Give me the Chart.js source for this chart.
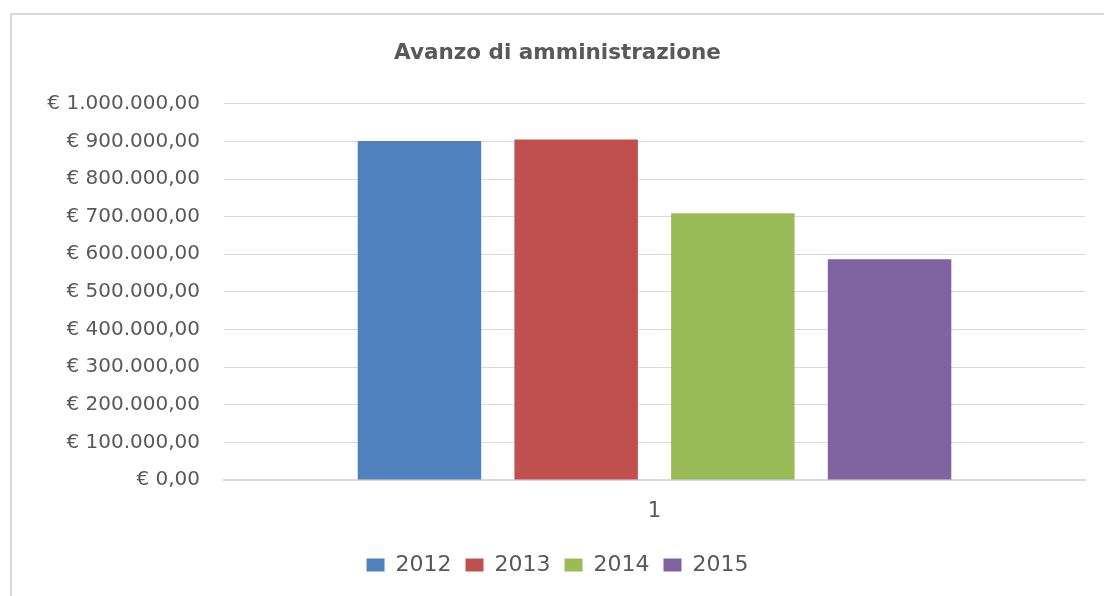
<!DOCTYPE html>
<html>
<head>
<meta charset="utf-8">
<script src="https://cdn.jsdelivr.net/npm/chart.js@4.4.0/dist/chart.umd.min.js"></script>
<style>
  body { margin: 0; background: #fff; overflow: hidden; }
  #cornice { position: absolute; left: 10px; top: 13px; width: 1200px; height: 700px; border: 2px solid #d9d9d9; }
  #contenitore { position: absolute; left: 0; top: 0; width: 1130px; height: 596px; }
</style>
</head>
<body>
<div id="cornice"></div>
<div id="contenitore"><canvas id="grafico"></canvas></div>
<script>
const categorie = ['1'];
const anni = ['2012', '2013', '2014', '2015'];
const valori = [901000, 905000, 709000, 587000];
const colori = ['#4f81bd', '#c0504d', '#9bbb59', '#8064a2'];

// formato euro all'italiana: € 1.000.000,00
function formattaEuro(v) {
  const intero = Math.round(v).toString().replace(/\B(?=(\d{3})+(?!\d))/g, '.');
  return '€ ' + intero + ',00';
}

const ctx = document.getElementById('grafico').getContext('2d');
new Chart(ctx, {
  type: 'bar',
  data: {
    labels: categorie,
    datasets: anni.map((anno, i) => ({
      label: anno,
      data: [valori[i]],
      backgroundColor: colori[i],
      borderWidth: 0,
      categoryPercentage: 0.728,
      barPercentage: 0.788
    }))
  },
  options: {
    responsive: true,
    maintainAspectRatio: false,
    animation: false,
    layout: { padding: { left: 30, right: 45, top: 0, bottom: 10 } },
    plugins: {
      title: {
        display: true,
        text: 'Avanzo di amministrazione',
        color: '#595959',
        font: { family: 'DejaVu Sans', size: 21.5, weight: 'bold' },
        padding: { top: 41, bottom: 37 }
      },
      legend: {
        position: 'bottom',
        labels: {
          color: '#595959',
          font: { family: 'DejaVu Sans', size: 22 },
          boxWidth: 18,
          boxHeight: 13,
          padding: 14
        }
      },
      tooltip: { enabled: false }
    },
    scales: {
      x: {
        grid: { display: false },
        border: { color: '#d9d9d9', width: 2 },
        ticks: { color: '#595959', font: { family: 'DejaVu Sans', size: 21 }, padding: 11 },
        afterFit: (scale) => { scale.height = 60; }
      },
      y: {
        min: 0,
        max: 1000000,
        grid: { color: '#d9d9d9', drawTicks: false },
        border: { display: false },
        ticks: {
          stepSize: 100000,
          color: '#595959',
          font: { family: 'DejaVu Sans', size: 20 },
          padding: 24,
          callback: (v) => formattaEuro(v)
        },
        afterFit: (scale) => { scale.width = 194; }
      }
    }
  }
});
</script>
</body>
</html>
